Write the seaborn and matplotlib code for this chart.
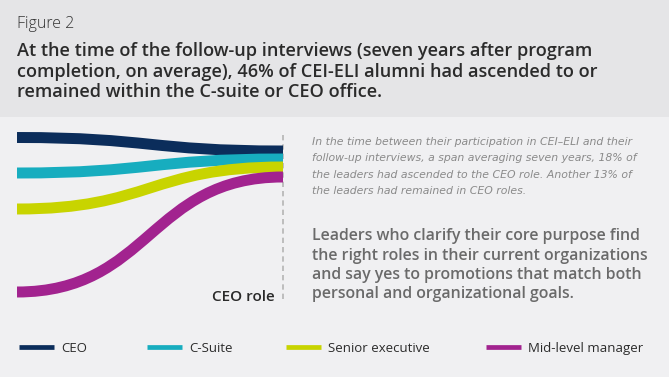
import numpy as np
import pandas as pd
import matplotlib.pyplot as plt
import seaborn as sns
from matplotlib.path import Path
from matplotlib.patches import PathPatch, Rectangle
from matplotlib.lines import Line2D

## Data: relative vertical position of each role at program start and at follow-up
roles = ['CEO', 'C-Suite', 'Senior executive', 'Mid-level manager']
start_level = [7.5, 43, 79, 162]
end_level = [21, 29, 37, 47]
colors = ['#0b2d5b', '#17adbf', '#c8d400', '#a2238f']

title_lines = ['At the time of the follow-up interviews (seven years after program',
               'completion, on average), 46% of CEI-ELI alumni had ascended to or',
               'remained within the C-suite or CEO office.']
note_lines = ['In the time between their participation in CEI\u2013ELI and their',
              'follow-up interviews, a span averaging seven years, 18% of',
              'the leaders had ascended to the CEO role. Another 13% of',
              'the leaders had remained in CEO roles.']
quote_lines = ['Leaders who clarify their core purpose find',
               'the right roles in their current organizations',
               'and say yes to promotions that match both',
               'personal and organizational goals.']

df = pd.DataFrame({'role': roles, 'start': start_level, 'end': end_level, 'color': colors})

sns.set_theme(style='white')
plt.rcParams['font.family'] = ['Open Sans', 'DejaVu Sans']

W, H = 669, 377
fig = plt.figure(figsize=(W / 100, H / 100), dpi=100)
fig.patch.set_facecolor('#f0f0f2')
fig.patches.append(Rectangle((0, 1 - 117 / H), 1, 117 / H, transform=fig.transFigure,
                             facecolor='#e5e5e7', edgecolor='none', zorder=0))

def px(x, y):
    return x / W, 1 - y / H

# header text
fig.text(*px(17, 28), 'Figure 2', fontsize=11.5, color='#333333', fontweight='light', va='baseline')
for i, line in enumerate(title_lines):
    fig.text(*px(17, 56 + i * 20.7), line, fontsize=13.1, color='#2b2b2b',
             fontweight='semibold', va='baseline')

# curves
ax = fig.add_axes([17 / W, 1 - 300 / H, (283 - 17) / W, 170 / H])
ax.set_xlim(0, 1)
ax.set_ylim(170, 0)
ax.axis('off')

for _, r in df.iterrows():
    verts = [(0, r['start']), (0.5, r['start']), (0.5, r['end']), (1, r['end'])]
    codes = [Path.MOVETO, Path.CURVE4, Path.CURVE4, Path.CURVE4]
    ax.add_patch(PathPatch(Path(verts, codes), fill=False, lw=7.9,
                           edgecolor=r['color'], capstyle='butt'))

ax.plot([1, 1], [5, 173], color='#b4b4b4', lw=1.2, linestyle=(0, (3.2, 2.4)),
        clip_on=False, zorder=0)
ax.text(0.97, 171, 'CEO role', fontsize=11, color='#2a2a2a', ha='right', va='baseline',
        fontweight='semibold')

# right-hand text
for i, line in enumerate(note_lines):
    fig.text(*px(312, 145 + i * 16.4), line, fontsize=7.85, color='#8a8a8a',
             family=['DejaVu Sans'], style='italic', va='baseline')
for i, line in enumerate(quote_lines):
    fig.text(*px(312, 240 + i * 19.5), line, fontsize=11.4, color='#6a6a6a',
             fontweight='semibold', va='baseline')

# legend
leg_x = [19, 147, 286, 486]
for x0, role, c in zip(leg_x, roles, colors):
    fig.add_artist(Line2D([x0 / W, (x0 + 35) / W], [1 - 347 / H] * 2, color=c, lw=3.4,
                          solid_capstyle='butt', transform=fig.transFigure))
    fig.text(*px(x0 + 42, 352), role, fontsize=9.5, color='#2b2b2b', va='baseline')

fig.savefig('out.png', dpi=100, facecolor=fig.get_facecolor())
